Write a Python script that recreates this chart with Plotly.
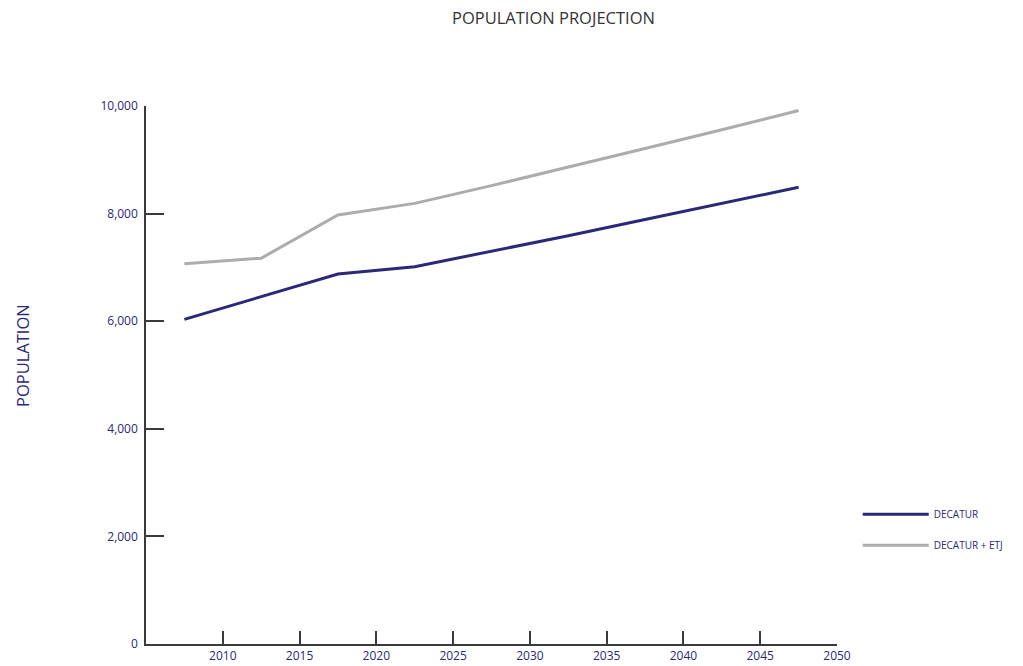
import plotly.graph_objects as go

years = [2007.5, 2012.5, 2017.5, 2022.5, 2027.5, 2032.5, 2037.5, 2042.5, 2047.5]
decatur = [6035, 6455, 6877, 7013, 7300, 7590, 7890, 8190, 8490]
decatur_etj = [7070, 7170, 7975, 8190, 8520, 8860, 9210, 9560, 9915]
x_ticks = [2010, 2015, 2020, 2025, 2030, 2035, 2040, 2045, 2050]
y_ticks = [0, 2000, 4000, 6000, 8000, 10000]
y_ticklabels = ["0", "2,000", "4,000", "6,000", "8,000", "10,000"]

NAVY = "#2b2878"
GRAY = "#acacac"
FONT = "Open Sans, Lato, sans-serif"

fig = go.Figure()
fig.add_trace(go.Scatter(x=years, y=decatur, mode="lines", name="DECATUR",
                         legendgroup="g1", line=dict(color=NAVY, width=3)))
fig.add_trace(go.Scatter(x=years, y=decatur_etj, mode="lines", name="DECATUR + ETJ",
                         legendgroup="g2", line=dict(color=GRAY, width=3)))

fig.update_layout(
    width=1023, height=666,
    margin=dict(l=146, r=186, t=106, b=22, autoexpand=False),
    paper_bgcolor="white", plot_bgcolor="white",
    font=dict(family=FONT, color=NAVY, size=12),
    showlegend=True,
    legend=dict(x=1.03, y=0.268, xanchor="left", yanchor="top",
                font=dict(size=10, color=NAVY), tracegroupgap=12,
                itemwidth=66, bgcolor="rgba(0,0,0,0)"),
    xaxis=dict(range=[2005, 2050], tickvals=x_ticks, showgrid=False, zeroline=False,
               automargin=False,
               showline=True, linecolor="#3a3a3a", linewidth=1.5,
               ticks="inside", ticklen=13, tickwidth=1.5, tickcolor="#3a3a3a",
               tickfont=dict(size=12, color=NAVY), ticklabelstandoff=0),
    yaxis=dict(range=[0, 10000], tickvals=y_ticks, ticktext=y_ticklabels,
               showgrid=False, zeroline=False, automargin=False,
               showline=True, linecolor="#3a3a3a", linewidth=1.5,
               ticks="inside", ticklen=18, tickwidth=1.5, tickcolor="#3a3a3a",
               tickfont=dict(size=12, color=NAVY), ticklabelstandoff=4),
    annotations=[
        dict(text="POPULATION PROJECTION", xref="paper", yref="paper",
             x=(553 - 146) / 691, y=1 + (106 - 18) / 538, xanchor="center", yanchor="middle",
             showarrow=False, font=dict(size=16.5, color="#333333", family=FONT)),
        dict(text="POPULATION", xref="paper", yref="paper",
             x=-(146 - 22) / 691, y=(644 - 356) / 538, xanchor="center", yanchor="middle",
             textangle=-90, showarrow=False, font=dict(size=16.5, color=NAVY, family=FONT)),
    ],
)

fig.write_html("out.html")
